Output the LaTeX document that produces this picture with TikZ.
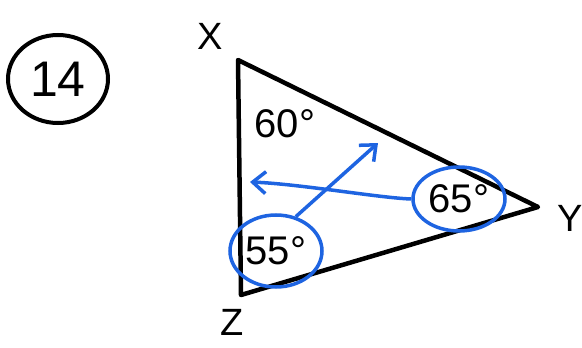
\documentclass[tikz,border=0pt]{standalone}
\usepackage{fontspec}
\setmainfont{Liberation Sans}
\usepackage{xcolor}
\usetikzlibrary{positioning, arrows.meta, shapes.geometric}
\definecolor{penblue}{RGB}{30,100,225}

\begin{document}
\begin{tikzpicture}[
    x=1pt, y=-1pt,
    side/.style={draw=black, line width=4.5pt, line join=round},
    vlabel/.style={font=\fontsize{38}{38}\selectfont, inner sep=0pt},
    angle/.style={font=\fontsize{40}{40}\selectfont, inner sep=0pt},
    ring/.style={ellipse, draw=penblue, line width=3.5pt, inner sep=0pt, font=\fontsize{40}{40}\selectfont},
    arr/.style={-{Straight Barb[length=13pt, width=22pt]}, draw=penblue, line width=3.5pt},
]
\useasboundingbox (0,0) rectangle (582,348);

% problem number
\node[ellipse, draw, line width=4pt, minimum width=100pt, minimum height=88pt,
      font=\fontsize{50}{50}\selectfont] (num) at (58,79) {14};

% triangle
\coordinate (X) at (238,60);
\coordinate (Y) at (538,207);
\coordinate (Z) at (241,295);
\draw[side] (X) -- (Y) -- (Z) -- cycle;

\node[vlabel] (lx) at (210,36) {X};
\node[vlabel] (ly) at (570,218) {Y};
\node[vlabel] (lz) at (232,322) {Z};

% angles
\node[angle] (a60) at (285,124) {60°};
\node[ring, minimum width=92pt, minimum height=64pt] (a65) at (459,199) {65°};
\node[ring, minimum width=92pt, minimum height=72pt] (a55) at (276,251) {55°};

% blue arrows
\coordinate (t1) at (250,182);
\coordinate (t2) at (378,143);
\draw[arr] (a65.west) .. controls (380,198) and (300,184) .. (t1);
\draw[arr] (a55.60) -- (t2);
\end{tikzpicture}
\end{document}
